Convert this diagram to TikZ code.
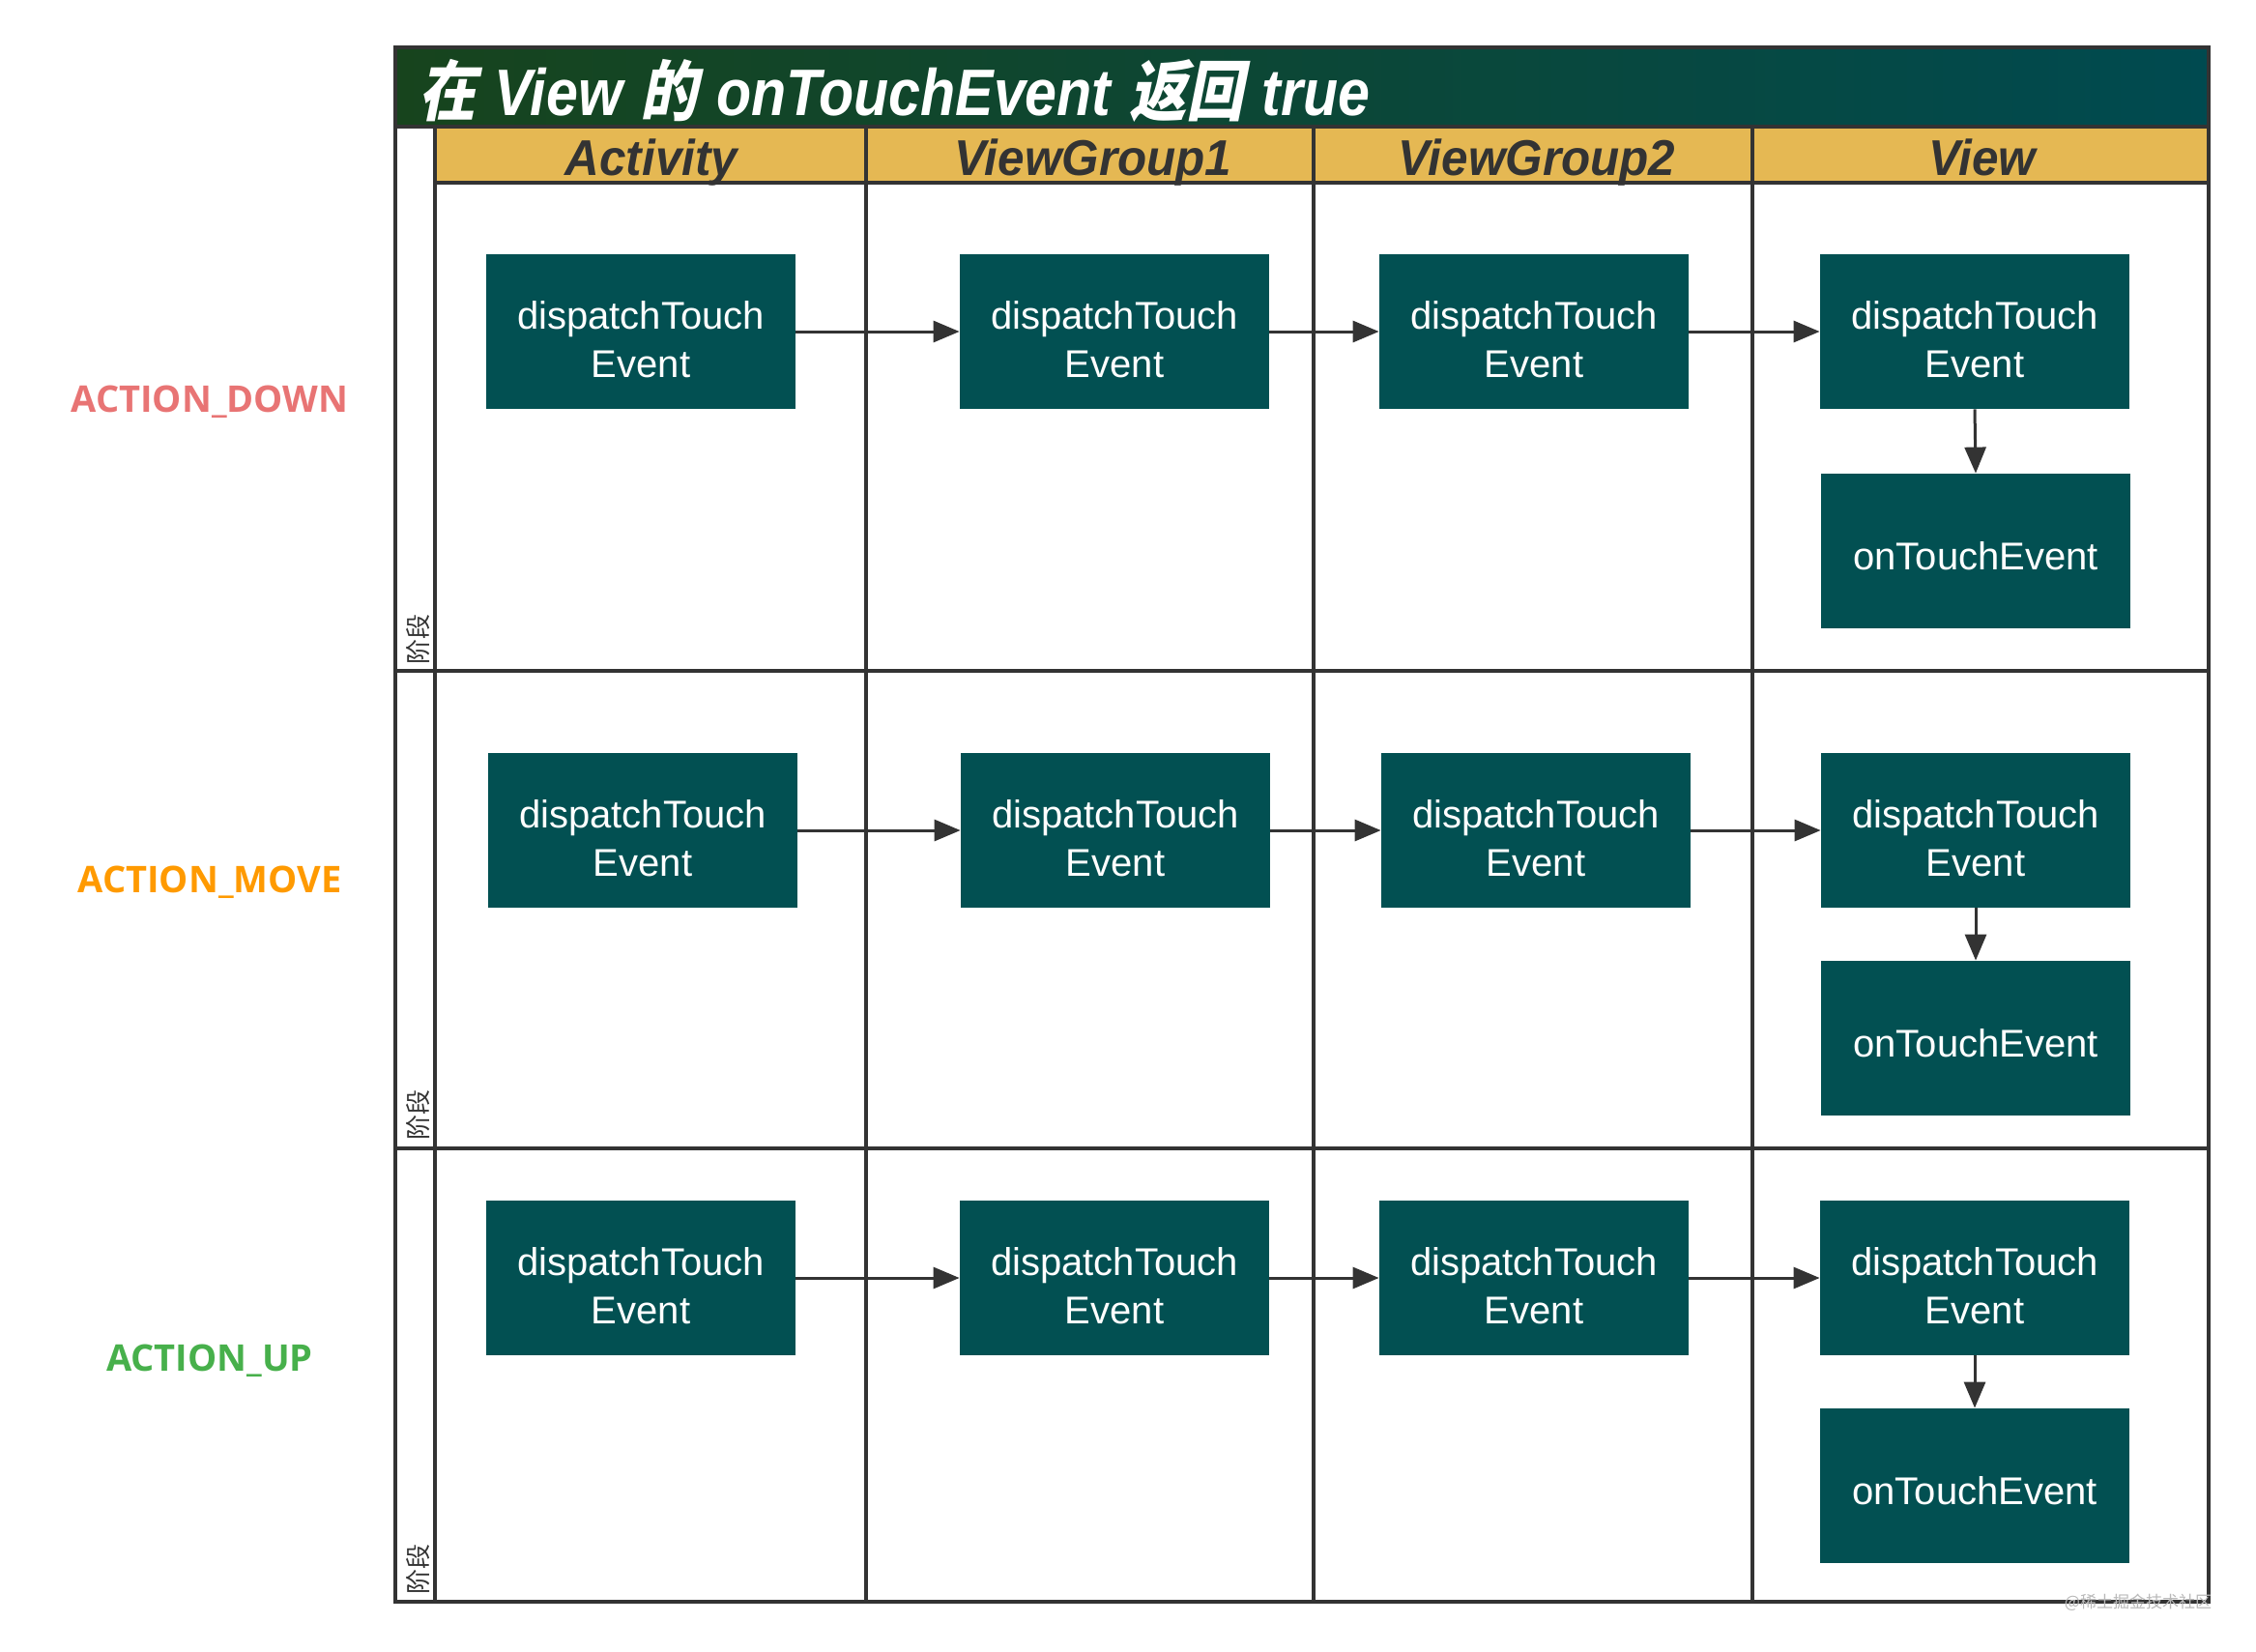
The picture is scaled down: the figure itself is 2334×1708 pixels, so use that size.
\documentclass[tikz,border=0pt]{standalone}
\usepackage{fontspec}
\setmainfont{Liberation Sans}
\newfontfamily\boxfont{Liberation Sans}
\newfontfamily\actfont{Open Sans}
\newfontfamily\cjkfont{Noto Sans CJK SC}
\newfontfamily\titlelat[FakeStretch=0.87]{Liberation Sans}
\newfontfamily\titlecjk[FakeStretch=0.87,FakeSlant=0.2]{Noto Sans CJK SC}
\newfontfamily\hdrfont[FakeStretch=0.95]{Liberation Sans}
\newcommand\Tl[1]{{\titlelat\bfseries\itshape #1}}
\newcommand\Tc[1]{{\titlecjk\bfseries #1}}
\newcommand\bxtext[2]{\raisebox{#1}[\height][\depth]{\begin{tabular}{@{}c@{}}#2\end{tabular}}}
\usetikzlibrary{arrows.meta}
\definecolor{titleL}{HTML}{17441D}
\definecolor{titleR}{HTML}{004A50}
\definecolor{hdryellow}{HTML}{E5B853}
\definecolor{boxteal}{HTML}{025052}
\definecolor{linegray}{HTML}{333333}
\definecolor{downred}{HTML}{E87474}
\definecolor{moveorange}{HTML}{FF9A00}
\definecolor{upgreen}{HTML}{47B04B}
\tikzset{
  fnbox/.style={rectangle, fill=boxteal, text=white, inner sep=0pt,
    minimum width=160pt, minimum height=80pt, align=center,
    font=\boxfont\fontsize{20}{25}\selectfont},
  otbox/.style={fnbox},
  arr/.style={draw=linegray, line width=1.5pt, -{Triangle[length=13.5pt,width=11pt]}},
  grid/.style={draw=linegray, line width=1.6pt},
  hdr/.style={anchor=base, inner sep=0pt, text=linegray,
    font=\hdrfont\bfseries\itshape\fontsize{26}{30}\selectfont},
  act/.style={inner sep=0pt, font=\actfont\bfseries\fontsize{19}{23}\selectfont},
  stage/.style={rotate=90, anchor=west, inner sep=0pt, text=linegray,
    font=\cjkfont\fontsize{13}{15}\selectfont}
}
\newcommand\DT{\bxtext{-6pt}{dispatchTouch\\Event}}
\newcommand\OT{\bxtext{-4.5pt}{onTouchEvent}}
\begin{document}
\begin{tikzpicture}[x=0.5pt,y=-0.5pt]
\useasboundingbox (0,0) rectangle (2334,1708);
% title band and header band
\shade[left color=titleL, right color=titleR] (409,49) rectangle (2285,131);
\fill[hdryellow] (450,131) rectangle (2285,189);
% grid
\draw[grid] (450,189) -- (2285,189);
\draw[grid] (450,131) -- (450,1657);
\foreach \cx in {896,1359,1813} \draw[grid] (\cx,131) -- (\cx,1657);
\foreach \ry in {694,1188} \draw[grid] (409,\ry) -- (2285,\ry);
\draw[grid] (409,131) -- (2285,131);
\draw[draw=linegray, line width=2pt] (409,49) rectangle (2285,1657);
% title
\node[anchor=base west, inner sep=0pt, text=white, font=\fontsize{34}{40}\selectfont] (title) at (433,119)
  {\Tc{在} \Tl{View} \Tc{的} \Tl{onTouchEvent} \Tc{返回} \Tl{true}};
% headers
\node[hdr] (hA) at (674,181) {Activity};
\node[hdr] (hB) at (1131,181) {ViewGroup1};
\node[hdr] (hC) at (1590,181) {ViewGroup2};
\node[hdr] (hD) at (2051,181) {View};
% action labels
\node[act, text=downred] (lDown) at (217,416) {ACTION\_DOWN};
\node[act, text=moveorange] (lMove) at (217,913) {ACTION\_MOVE};
\node[act, text=upgreen] (lUp) at (217,1408) {ACTION\_UP};
% stage labels
\node[stage] (s1) at (433,688) {阶段};
\node[stage] (s2) at (433,1180) {阶段};
\node[stage] (s3) at (433,1650) {阶段};
% row 1
\node[fnbox] (a1) at (663,343) {\DT};
\node[fnbox] (b1) at (1153,343) {\DT};
\node[fnbox] (c1) at (1587,343) {\DT};
\node[fnbox] (d1) at (2043,343) {\DT};
\node[otbox] (e1) at (2044,570) {\OT};
% row 2
\node[fnbox] (a2) at (665,859) {\DT};
\node[fnbox] (b2) at (1154,859) {\DT};
\node[fnbox] (c2) at (1589,859) {\DT};
\node[fnbox] (d2) at (2044,859) {\DT};
\node[otbox] (e2) at (2044,1074) {\OT};
% row 3
\node[fnbox] (a3) at (663,1322) {\DT};
\node[fnbox] (b3) at (1153,1322) {\DT};
\node[fnbox] (c3) at (1587,1322) {\DT};
\node[fnbox] (d3) at (2043,1322) {\DT};
\node[otbox] (e3) at (2043,1537) {\OT};
% arrows
\foreach \r in {1,2,3}{
  \draw[arr] (a\r.east) -- (b\r.west);
  \draw[arr] (b\r.east) -- (c\r.west);
  \draw[arr] (c\r.east) -- (d\r.west);
  \draw[arr] (d\r.south) -- (e\r.north);
}
% watermark
\node[inner sep=0pt, text=black!28, font=\cjkfont\fontsize{8.5}{10}\selectfont] (wm) at (2212,1658) {@稀土掘金技术社区};
\end{tikzpicture}
\end{document}
